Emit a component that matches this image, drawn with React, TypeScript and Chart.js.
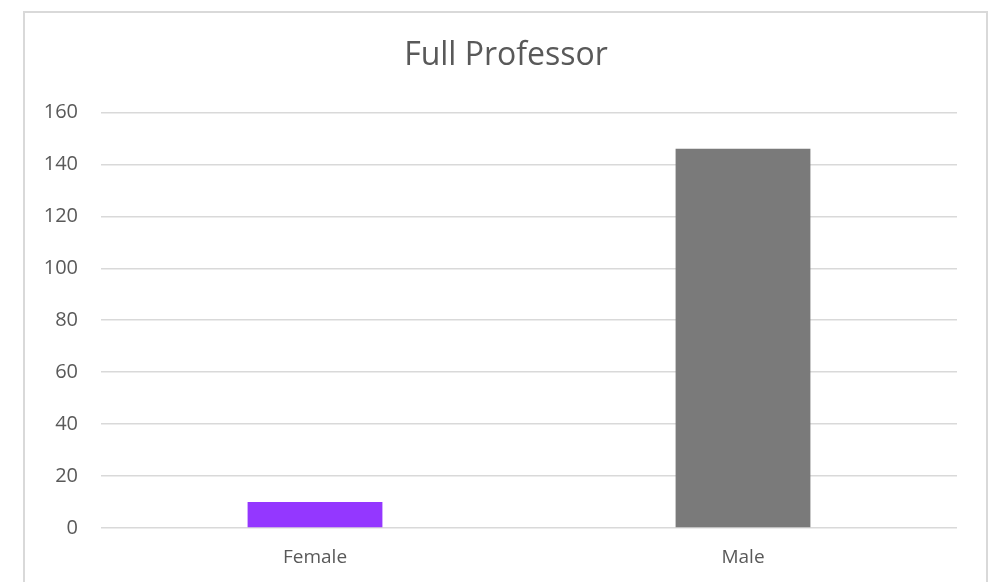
import React, { useEffect, useRef } from "react";
import { Chart, registerables } from "chart.js";

Chart.register(...registerables);

const categories: string[] = ["Female", "Male"];
const values: number[] = [10, 146];
const barColors: string[] = ["#9437FF", "#7A7A7A"];
const chartTitle = "Full Professor";
const yMin = 0;
const yMax = 160;
const yStep = 20;

const centerTitlePlugin = {
  id: "centerTitleInFrame",
  afterLayout(chart: any) {
    const t = chart.titleBlock;
    if (!t) return;
    t.left = 24;
    t.right = 988;
    t.width = 964;
  },
};

export default function App() {
  const ref = useRef<HTMLCanvasElement | null>(null);
  useEffect(() => {
    if (!ref.current) return;
    const chart = new Chart(ref.current, {
      type: "bar",
      data: {
        labels: categories,
        datasets: [
          {
            data: values,
            backgroundColor: barColors,
            borderWidth: 0,
            categoryPercentage: 1,
            barPercentage: 0.315,
          },
        ],
      },
      options: {
        animation: false,
        responsive: false,
        devicePixelRatio: 1,
        layout: { padding: { left: 30, right: 38, top: 0, bottom: 0 } },
        plugins: {
          legend: { display: false },
          tooltip: { enabled: false },
          title: {
            display: true,
            text: chartTitle,
            color: "#595959",
            font: { family: "Open Sans", size: 32, weight: "normal" },
            padding: { top: 37, bottom: 37 },
          },
        },
        scales: {
          x: {
            grid: { display: false, drawTicks: false },
            border: { display: false },
            ticks: {
              color: "#595959",
              font: { family: "Open Sans", size: 19 },
              padding: 18,
            },
            afterFit: (s: any) => {
              s.height = 54;
            },
          },
          y: {
            min: yMin,
            max: yMax,
            grid: { color: "#D9D9D9", lineWidth: 1.5, drawTicks: false },
            border: { display: false },
            ticks: {
              stepSize: yStep,
              color: "#595959",
              font: { family: "Open Sans", size: 20 },
              padding: 23,
            },
            afterFit: (s: any) => {
              s.width = 71;
            },
          },
        },
      },
      plugins: [centerTitlePlugin],
    });
    return () => chart.destroy();
  }, []);
  return (
    <div style={{ position: "fixed", left: 0, top: 0, width: 995, height: 582, background: "#fff", overflow: "hidden" }}>
      <div
        style={{
          position: "absolute",
          left: 23,
          top: 11,
          width: 965,
          height: 620,
          border: "2px solid #D9D9D9",
          boxSizing: "border-box",
        }}
      />
      <canvas ref={ref} width={995} height={582} style={{ position: "absolute", left: 0, top: 0 }} />
    </div>
  );
}
